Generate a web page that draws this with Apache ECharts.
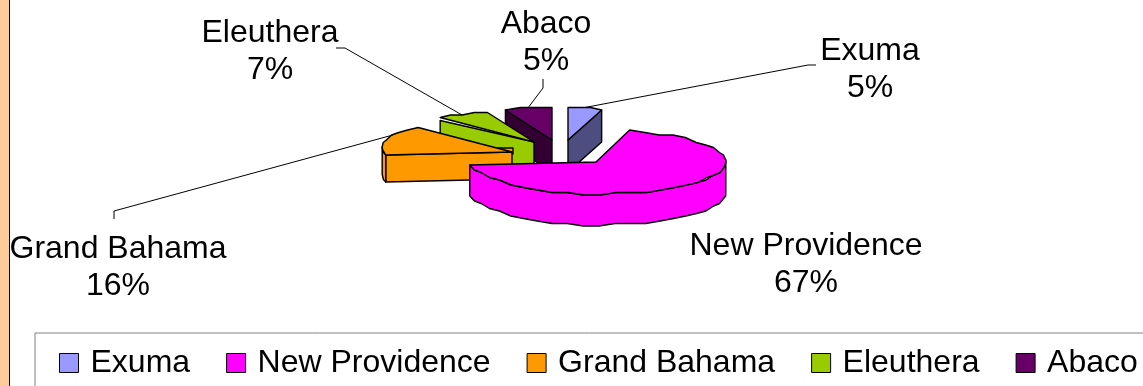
<!DOCTYPE html>
<html>
<head>
<meta charset="utf-8">
<style>html,body{margin:0;padding:0;background:#fff}#chart{width:1143px;height:386px}</style>
<script src="https://cdn.jsdelivr.net/npm/echarts@6/dist/echarts.min.js"></script>
</head>
<body>
<div id="chart"></div>
<script>
// Share of each island group, in percent, clockwise from the top of the pie
const islands = ['Exuma', 'New Providence', 'Grand Bahama', 'Eleuthera', 'Abaco'];
const shares = [5, 67, 16, 7, 5];
const topColors = ['#9999FF', '#FF00FF', '#FF9900', '#99CC00', '#660066'];
const cutColors = ['#4D4D80', '#FF00FF', '#FF9900', '#99CC00', '#330033'];

// Pie projection and the exploded hub of each wedge
const RX = 130, RY = 32;
const FONT_FAMILY = '"Liberation Sans", Arial, sans-serif';
const FONT_SIZE = 32;
const hubs = [[568, 140], [596, 162], [512, 152], [534, 142], [552, 140]];
const depths = [32, 31, 27, 32, 32];
const drawOrder = [1, 4, 3, 2, 1];
const cutSide = ['end', null, 'start', 'start', 'start'];
const cutDrop = [0, 0, 0, 3, 0];
const hubTabs = [0, 0, 15, 0, 0];
const leaderAt = [0.5, 0.5, 0.65, 0.5, 0.5];
const leaderPaths = [
  [[808, 65], [816, 65]],
  null,
  [[114, 211], [114, 219]],
  [[345, 48], [336, 48]],
  [[543, 88], [543, 79]]
];
const labelCentres = [[870, 51], [806, 246], [118, 249], [270, 33], [546, 24]];
const LINE_GAP = 37;

// Foreshortening of the far side of the tilted pie: the wedges next to the
// top keep their vertical edge while the rest of the rim lags a few degrees
const viewFrom = [0, 18, 342, 360];
const viewTo = [0, 15, 339, 360];
function viewAngle(deg) {
  for (let i = 1; i < viewFrom.length; i++) {
    if (deg <= viewFrom[i]) {
      const t = (deg - viewFrom[i - 1]) / (viewFrom[i] - viewFrom[i - 1]);
      return viewTo[i - 1] + t * (viewTo[i] - viewTo[i - 1]);
    }
  }
  return deg;
}

// Rim point of a wedge at a clockwise angle; snapping to a coarse grid keeps
// the slightly knobbly outline of the rim
function rimPoint(hub, deg, drop) {
  const a = viewAngle(deg) * Math.PI / 180;
  const ay = a + (9 * Math.PI / 180) * Math.max(0, -Math.sin(a));
  return [
    hub[0] + RX * Math.sin(a),
    Math.round((hub[1] - RY * Math.cos(ay)) / 2.5) * 2.5 + (drop || 0)
  ];
}

function arcPoints(hub, from, to, drop) {
  const pts = [];
  const n = Math.max(2, Math.round(Math.abs(to - from) / 7));
  for (let i = 0; i <= n; i++) pts.push(rimPoint(hub, from + (to - from) * i / n, drop));
  return pts;
}

function wedgeAngles(index) {
  const total = shares.reduce((s, v) => s + v, 0);
  let before = 0;
  for (let i = 0; i < index; i++) before += shares[i];
  return [before / total * 360, (before + shares[index]) / total * 360];
}

function renderWedge(index) {
  return function (params, api) {
    const [a0, a1] = wedgeAngles(index);
    const hub = hubs[index];
    const depth = depths[index];
    const edge = { stroke: '#000', lineWidth: 1.4, lineJoin: 'round' };
    const children = [];

    // Small corner of the inner wall showing behind the hub
    if (hubTabs[index]) {
      children.push({
        type: 'polygon',
        shape: { points: [[hub[0] - hubTabs[index], hub[1] - 4], [hub[0] + 1, hub[1] - 4], [hub[0] + 1, hub[1] + 2]] },
        style: Object.assign({ fill: cutColors[index] }, edge)
      });
    }

    // Cut face, dropped from the hub to the rim
    if (cutSide[index]) {
      const p = rimPoint(hub, cutSide[index] === 'start' ? a0 : a1, cutDrop[index]);
      children.push({
        type: 'polygon',
        shape: { points: [p, hub, [hub[0], hub[1] + depth], [p[0], p[1] + depth]] },
        style: Object.assign({ fill: cutColors[index] }, edge)
      });
    }

    // Front wall, only where the rim faces the viewer
    const wallFrom = Math.max(a0, 90), wallTo = Math.min(a1, 270);
    if (wallTo > wallFrom) {
      const upper = arcPoints(hub, wallFrom, wallTo, 0);
      const lower = arcPoints(hub, wallFrom, wallTo, depth).reverse();
      children.push({
        type: 'polygon',
        shape: { points: upper.concat(lower) },
        style: Object.assign({ fill: cutColors[index] }, edge)
      });
    }

    // Top surface
    children.push({
      type: 'polygon',
      shape: { points: [hub].concat(arcPoints(hub, a0, a1, 0)) },
      style: Object.assign({ fill: topColors[index] }, edge)
    });

    // Leader line from the rim out to the label
    if (leaderPaths[index]) {
      const at = a0 + (a1 - a0) * leaderAt[index];
      children.push({
        type: 'polyline',
        shape: { points: [rimPoint(hub, at)].concat(leaderPaths[index]) },
        style: { stroke: '#000', lineWidth: 1, fill: null }
      });
    }

    // Two-line label: name above, share below
    const [lx, ly] = labelCentres[index];
    [islands[index], api.value(0) + '%'].forEach((line, i) => {
      children.push({
        type: 'text',
        style: {
          text: line, x: lx, y: ly + i * LINE_GAP,
          fontFamily: FONT_FAMILY, fontSize: FONT_SIZE,
          fill: '#000', align: 'center', verticalAlign: 'middle'
        }
      });
    });

    return { type: 'group', children };
  };
}

const chart = echarts.init(document.getElementById('chart'), null, { renderer: 'canvas' });
chart.setOption({
  animation: false,
  backgroundColor: '#fff',
  graphic: [
    { type: 'rect', silent: true, shape: { x: 0, y: 0, width: 9, height: 386 }, style: { fill: '#FFCC99' } },
    { type: 'rect', silent: true, shape: { x: 9, y: 0, width: 1, height: 386 }, style: { fill: '#000' } }
  ],
  legend: {
    data: islands,
    left: 35,
    top: 333,
    width: 1300,
    padding: [14, 30, 30, 24],
    borderColor: '#808080',
    borderWidth: 1,
    icon: 'rect',
    itemWidth: 19,
    itemHeight: 19,
    itemGap: 36,
    itemStyle: { borderColor: '#000', borderWidth: 1 },
    textStyle: { fontFamily: FONT_FAMILY, fontSize: FONT_SIZE, color: '#000', padding: [0, 0, 0, 7] },
    selectedMode: false
  },
  series: islands.map((name, i) => ({
    type: 'custom',
    name,
    coordinateSystem: 'none',
    silent: true,
    z: drawOrder[i],
    itemStyle: { color: topColors[i] },
    data: [[shares[i]]],
    renderItem: renderWedge(i)
  }))
});
</script>
</body>
</html>
